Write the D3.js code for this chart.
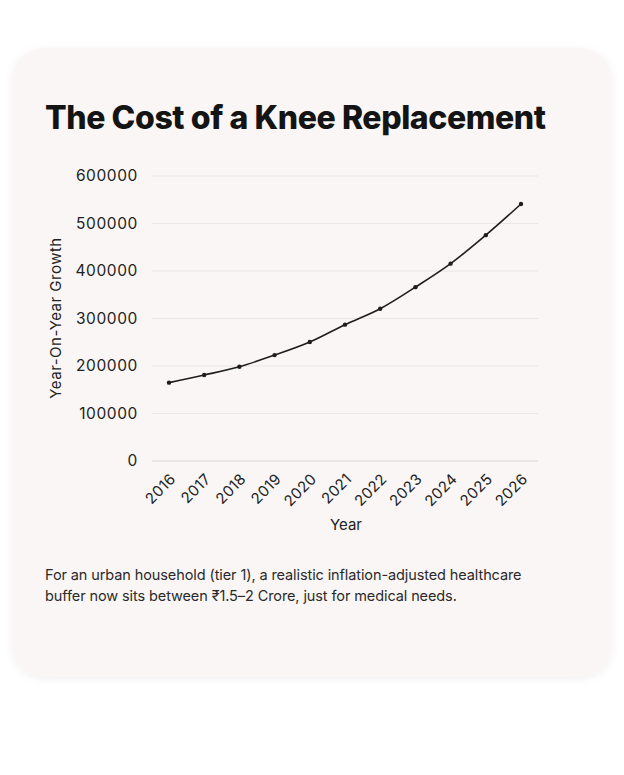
<!DOCTYPE html>
<html>
<head>
<meta charset="utf-8">
<script src="https://cdn.jsdelivr.net/npm/d3@7"></script>
<style>
  html, body { margin: 0; padding: 0; background: #ffffff; }
  svg { display: block; }
</style>
</head>
<body>
<svg id="chart" width="624" height="775"></svg>
<script>
const years = [2016, 2017, 2018, 2019, 2020, 2021, 2022, 2023, 2024, 2025, 2026];
const costs = [165000, 181000, 198500, 223000, 250500, 287000, 320500, 366000, 415500, 475500, 541000];
const yTicks = [0, 100000, 200000, 300000, 400000, 500000, 600000];
const titleText = "The Cost of a Knee Replacement";
const yLabel = "Year-On-Year Growth";
const xLabel = "Year";
const noteLines = [
  "For an urban household (tier 1), a realistic inflation-adjusted healthcare",
  "buffer now sits between \u20B91.5\u20132 Crore, just for medical needs."
];

const svg = d3.select("#chart");
const defs = svg.append("defs");
const f = defs.append("filter").attr("id", "sh").attr("x", "-10%").attr("y", "-10%").attr("width", "120%").attr("height", "120%");
f.append("feDropShadow").attr("dx", 0).attr("dy", 2).attr("stdDeviation", 4).attr("flood-color", "#000").attr("flood-opacity", 0.06);

svg.append("rect")
  .attr("x", 12).attr("y", 48).attr("width", 600).attr("height", 629)
  .attr("rx", 32).attr("fill", "#faf6f5").attr("filter", "url(#sh)");

svg.append("text")
  .attr("x", 45).attr("y", 129)
  .attr("font-family", "Inter, 'Open Sans', sans-serif")
  .attr("font-weight", 800).attr("font-size", 32)
  .attr("letter-spacing", -0.4)
  .attr("fill", "#141414")
  .text(titleText);

const x = d3.scalePoint().domain(years).range([169, 521]);
const y = d3.scaleLinear().domain([0, 600000]).range([461, 176]);

const font = "Inter, 'Open Sans', sans-serif";

// gridlines
svg.append("g").selectAll("line").data(yTicks).join("line")
  .attr("x1", 152).attr("x2", 538)
  .attr("y1", d => y(d)).attr("y2", d => y(d))
  .attr("stroke", d => d === 0 ? "#dcd6d5" : "#ebe6e5").attr("stroke-width", 1);

// y axis
const yAxis = svg.append("g").attr("transform", "translate(152,0)")
  .call(d3.axisLeft(y).tickValues(yTicks).tickSize(0).tickPadding(14).tickFormat(d3.format("d")));
yAxis.select(".domain").remove();
yAxis.selectAll("text").attr("font-family", font).attr("font-size", 15.5).attr("fill", "#222").attr("letter-spacing", 0.6);

// x axis
const xAxis = svg.append("g").attr("transform", "translate(0,461)")
  .call(d3.axisBottom(x).tickSize(0).tickPadding(0).tickFormat(d3.format("d")));
xAxis.select(".domain").remove();
xAxis.selectAll("text")
  .attr("font-family", font).attr("font-size", 15).attr("fill", "#222")
  .attr("text-anchor", "end").attr("dy", 0).attr("letter-spacing", 0.3)
  .attr("transform", "translate(7,19) rotate(-45)");

// axis titles
svg.append("text")
  .attr("transform", "translate(61,318) rotate(-90)")
  .attr("text-anchor", "middle")
  .attr("font-family", font).attr("font-size", 15).attr("fill", "#222")
  .attr("letter-spacing", 0.5)
  .text(yLabel);
svg.append("text")
  .attr("x", 346).attr("y", 530).attr("text-anchor", "middle")
  .attr("font-family", font).attr("font-size", 15).attr("fill", "#222")
  .text(xLabel);

// line
const line = d3.line().x((d, i) => x(years[i])).y(d => y(d)).curve(d3.curveMonotoneX);
svg.append("path").datum(costs)
  .attr("d", line).attr("fill", "none").attr("stroke", "#1e1e1e").attr("stroke-width", 1.6);
svg.append("g").selectAll("circle").data(costs).join("circle")
  .attr("cx", (d, i) => x(years[i])).attr("cy", d => y(d)).attr("r", 2.2).attr("fill", "#1e1e1e");

// note
svg.append("g").selectAll("text").data(noteLines).join("text")
  .attr("x", 45).attr("y", (d, i) => 580 + i * 21)
  .attr("font-family", font).attr("font-size", 14.5).attr("fill", "#2a2a2a")
  .attr("letter-spacing", -0.1)
  .text(d => d);
</script>
</body>
</html>
